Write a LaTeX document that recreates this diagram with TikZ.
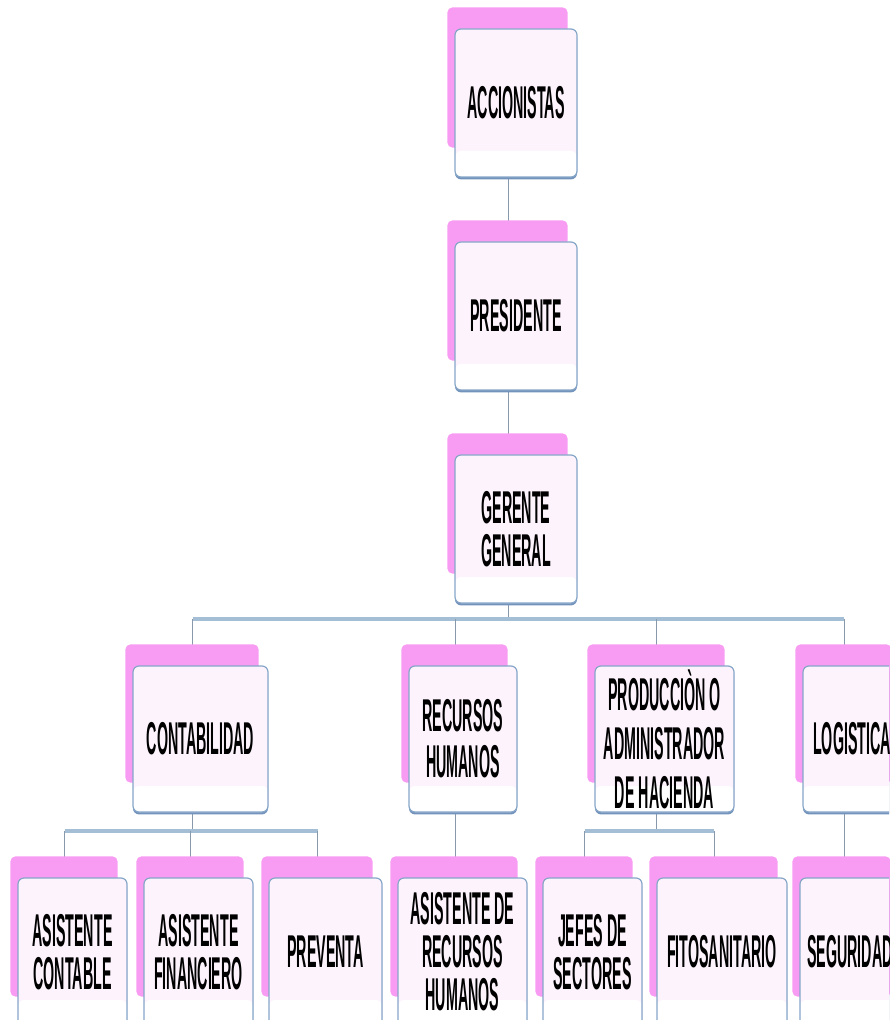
\documentclass[tikz,border=0pt]{standalone}
\usepackage{fontspec}
\usepackage{tikz}
\usetikzlibrary{backgrounds,shadows}
\newfontfamily\estrecha[FakeStretch=0.31]{Liberation Sans}
\definecolor{rosa}{HTML}{F89CF3}
\definecolor{fondo}{HTML}{FDF3FC}
\definecolor{borde}{HTML}{86A6C8}
\definecolor{sombra}{HTML}{7393BC}
\definecolor{conector}{HTML}{8799AB}
\definecolor{barraazul}{HTML}{A4BED6}

\begin{document}
\begin{tikzpicture}[x=0.5pt,y=-0.5pt,
    cargo/.style={draw=borde, line width=0.6pt, fill=fondo, rounded corners=3pt,
        inner sep=0pt, align=center,
        font=\estrecha\bfseries\fontsize{23pt}{21.5pt}\selectfont,
        drop shadow={shadow xshift=0pt, shadow yshift=-1.2pt, fill=sombra, opacity=1},
        path picture={\fill[white] (path picture bounding box.south west)
            rectangle ([yshift=13pt]path picture bounding box.south east);}},
    linea/.style={draw=conector, line width=0.5pt},
    barra/.style={draw=barraazul, line width=1.6pt}]
    \useasboundingbox (0,0) rectangle (889,1020);
    \clip (0,0) rectangle (889,1020);

    % direccion
    \node[cargo, minimum width=61pt, minimum height=74pt] (acc) at (516,103) {ACCIONISTAS};
    \node[cargo, minimum width=61pt, minimum height=74pt] (pres) at (516,316) {PRESIDENTE};
    \node[cargo, minimum width=61pt, minimum height=74pt] (ger) at (516,529) {GERENTE\\GENERAL};

    % areas
    \node[cargo, minimum width=67.5pt, minimum height=73pt] (cont) at (200.5,739) {CONTABILIDAD};
    \node[cargo, minimum width=54pt, minimum height=73pt,
        font=\estrecha\bfseries\fontsize{23pt}{23pt}\selectfont] (rrhh) at (463,739) {RECURSOS\\HUMANOS};
    \node[cargo, minimum width=69.5pt, minimum height=73pt,
        font=\estrecha\bfseries\fontsize{23pt}{24.5pt}\selectfont] (prod) at (664.5,739) {PRODUCCIÒN O\\ADMINISTRADOR\\DE HACIENDA};
    \node[cargo, minimum width=49pt, minimum height=73pt] (log) at (852,739) {LOGISTICA};

    % personal
    \node[cargo, minimum width=54.5pt, minimum height=74pt] (ac) at (72.5,952) {ASISTENTE\\CONTABLE};
    \node[cargo, minimum width=54.5pt, minimum height=74pt] (af) at (198.5,952) {ASISTENTE\\FINANCIERO};
    \node[cargo, minimum width=56.5pt, minimum height=74pt] (prev) at (325.5,952) {PREVENTA};
    \node[cargo, minimum width=64.5pt, minimum height=74pt] (ar) at (462.5,952) {ASISTENTE DE\\RECURSOS\\HUMANOS};
    \node[cargo, minimum width=49.5pt, minimum height=74pt] (jefes) at (592.5,952) {JEFES DE\\SECTORES};
    \node[cargo, minimum width=65pt, minimum height=74pt] (fito) at (722,952) {FITOSANITARIO};
    \node[cargo, minimum width=50pt, minimum height=74pt] (seg) at (850,952) {SEGURIDAD};

    \foreach \n in {acc,pres,ger,cont,rrhh,prod,log,ac,af,prev,ar,jefes,fito,seg} {
        \coordinate (\n-a) at ([xshift=-4pt]\n.north);
        \coordinate (\n-b) at ([xshift=-4pt]\n.south);
    }
    \coordinate (b1) at (0,619);
    \coordinate (b2) at (0,831);

    \begin{scope}[on background layer]
        \draw[linea] (acc-b) -- (pres-a);
        \draw[linea] (pres-b) -- (ger-a);
        \draw[linea] (ger-b) -- (ger-b |- b1);
        \draw[barra] (cont-a |- b1) -- (log-a |- b1);
        \foreach \n in {cont,rrhh,prod,log}
            \draw[linea] (\n-a |- b1) -- (\n-a);

        \draw[linea] (cont-b) -- (cont-b |- b2);
        \draw[barra] (ac-a |- b2) -- (prev-a |- b2);
        \foreach \n in {ac,af,prev}
            \draw[linea] (\n-a |- b2) -- (\n-a);
        \draw[linea] (rrhh-b) -- (rrhh-b |- ar-a);
        \draw[linea] (prod-b) -- (prod-b |- b2);
        \draw[barra] (jefes-a |- b2) -- (fito-a |- b2);
        \foreach \n in {jefes,fito}
            \draw[linea] (\n-a |- b2) -- (\n-a);
        \draw[linea] (log-b) -- (log-b |- seg-a);

        % fondo rosa detras de cada caja
        \foreach \n in {acc,pres,ger,cont,rrhh,prod,log,ac,af,prev,ar,jefes,fito,seg}
            \fill[rosa, rounded corners=2.5pt] ([xshift=-3.5pt,yshift=10.5pt]\n.north west)
                rectangle ([xshift=-5pt,yshift=15pt]\n.south east);
    \end{scope}
\end{tikzpicture}
\end{document}
